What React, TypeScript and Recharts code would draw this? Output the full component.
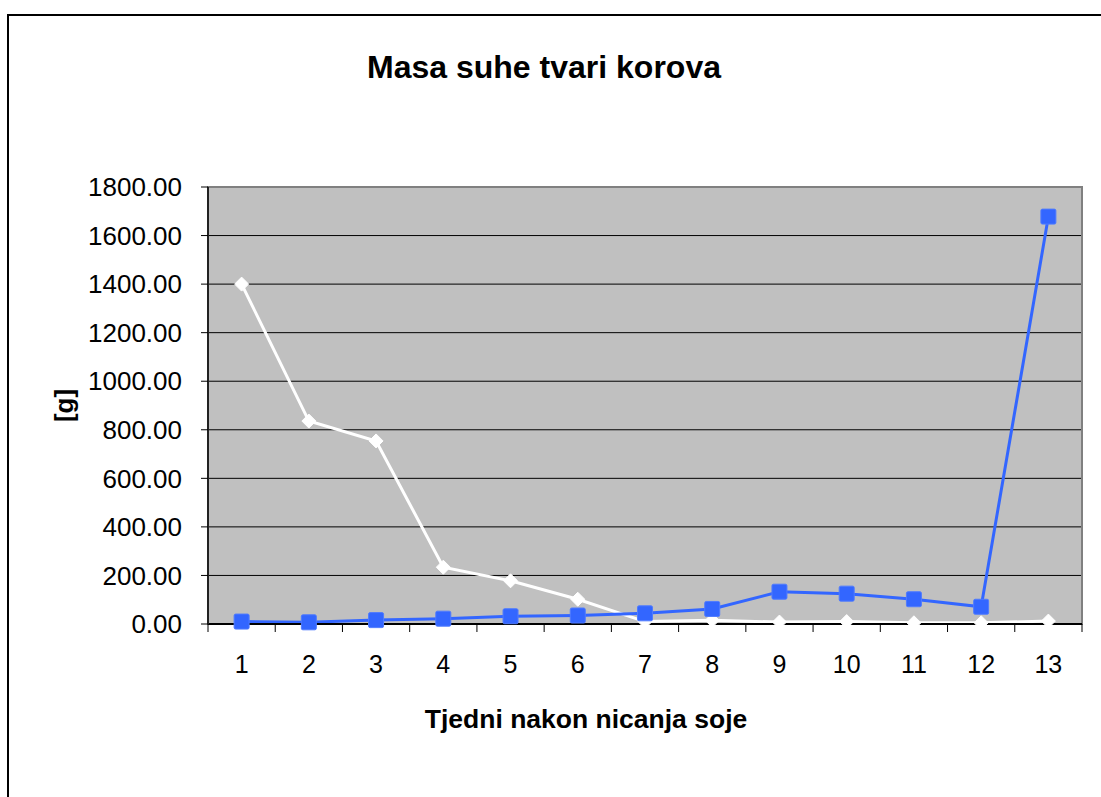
import { CartesianGrid, Line, LineChart, ReferenceArea, XAxis, YAxis } from "recharts";

const weeks = [1, 2, 3, 4, 5, 6, 7, 8, 9, 10, 11, 12, 13];
const whiteValues = [1400, 836, 754, 234, 178, 102, 10, 15, 8, 10, 5, 5, 12];
const blueValues = [10, 7, 16, 22, 32, 35, 44, 62, 133, 125, 102, 71, 1678];
const yTicks = [0, 200, 400, 600, 800, 1000, 1200, 1400, 1600, 1800];
const title = "Masa suhe tvari korova";
const xTitle = "Tjedni nakon nicanja soje";
const yTitle = "[g]";

const data = weeks.map((w, i) => ({ week: w, white: whiteValues[i], blue: blueValues[i] }));
// tick marks sit on the borders between categories
const boundaryTicks = [...weeks.map((w) => w - 0.5), weeks[weeks.length - 1] + 0.5];

const FONT = '"Liberation Sans", Arial, sans-serif';

const Diamond = (props: any) => {
  const { cx, cy } = props;
  if (cx == null || cy == null) return null;
  const r = 7;
  return (
    <polygon
      key={props.key}
      points={`${cx},${cy - r} ${cx + r},${cy} ${cx},${cy + r} ${cx - r},${cy}`}
      fill="#ffffff"
      stroke="#ffffff"
      strokeWidth={1}
    />
  );
};

const Square = (props: any) => {
  const { cx, cy } = props;
  if (cx == null || cy == null) return null;
  const s = 15;
  return (
    <rect
      key={props.key}
      x={cx - s / 2}
      y={cy - s / 2}
      width={s}
      height={s}
      rx={1.5}
      fill="#3366ff"
      stroke="#4f7bff"
      strokeWidth={1}
    />
  );
};

const YTitle = (props: any) => {
  const vb = props.viewBox || {};
  const x = vb.x + 56;
  const y = vb.y + vb.height / 2;
  return (
    <text
      x={x}
      y={y}
      transform={`rotate(-90, ${x}, ${y})`}
      textAnchor="middle"
      dominantBaseline="central"
      fontFamily={FONT}
      fontWeight="bold"
      fontSize={26}
      fill="#000"
    >
      {yTitle}
    </text>
  );
};

export default function App() {
  return (
    <div
      style={{
        position: "fixed",
        left: 0,
        top: 0,
        width: 1101,
        height: 797,
        overflow: "hidden",
        background: "#fff",
        fontFamily: FONT,
      }}
    >
      <div
        style={{
          position: "absolute",
          left: 7,
          top: 14,
          width: 1200,
          height: 900,
          border: "2px solid #000",
        }}
      />
      <div
        style={{
          position: "absolute",
          left: 544,
          top: 51,
          transform: "translateX(-50%)",
          whiteSpace: "nowrap",
          fontSize: 32,
          lineHeight: 1,
          fontWeight: "bold",
        }}
      >
        {title}
      </div>
      <div
        style={{
          position: "absolute",
          left: 586,
          top: 706,
          transform: "translateX(-50%)",
          whiteSpace: "nowrap",
          fontSize: 26.5,
          lineHeight: 1,
          fontWeight: "bold",
        }}
      >
        {xTitle}
      </div>
      <div style={{ position: "absolute", left: 0, top: 0 }}>
        <LineChart
          width={1101}
          height={797}
          data={data}
          margin={{ top: 187, right: 19, left: 8, bottom: 105 }}
        >
          <CartesianGrid
            xAxisId="b"
            vertical={false}
            stroke="#000"
            strokeWidth={1}
            fill="#c0c0c0"
            fillOpacity={1}
          />
          <ReferenceArea
            xAxisId="b"
            x1={0.5}
            x2={13.5}
            y1={0}
            y2={1800}
            fill="none"
            stroke="#808080"
            strokeWidth={2}
          />
          <XAxis
            xAxisId="b"
            dataKey="week"
            type="number"
            domain={[0.5, 13.5]}
            ticks={weeks}
            interval={0}
            height={60}
            tickSize={0}
            tickMargin={23}
            axisLine={false}
            tickLine={false}
            tick={{ fill: "#000", fontSize: 25, fontFamily: FONT }}
          />
          <XAxis
            xAxisId="a"
            dataKey="week"
            type="number"
            domain={[0.5, 13.5]}
            ticks={boundaryTicks}
            interval={0}
            height={8}
            tickSize={8}
            tickFormatter={() => ""}
            axisLine={{ stroke: "#000", strokeWidth: 2 }}
            tickLine={{ stroke: "#000" }}
          />
          <YAxis
            domain={[0, 1800]}
            ticks={yTicks}
            interval={0}
            width={200}
            tickSize={7}
            tickMargin={19}
            tickFormatter={(v: number) => v.toFixed(2)}
            axisLine={{ stroke: "#222", strokeWidth: 2 }}
            tickLine={{ stroke: "#000" }}
            tick={{ fill: "#000", fontSize: 26, fontFamily: FONT }}
            label={{ content: <YTitle /> }}
          />
          <Line
            xAxisId="b"
            type="linear"
            dataKey="white"
            name="Serija 1"
            stroke="#ffffff"
            strokeWidth={3}
            dot={Diamond}
            activeDot={false}
            isAnimationActive={false}
          />
          <Line
            xAxisId="b"
            type="linear"
            dataKey="blue"
            name="Serija 2"
            stroke="#3366ff"
            strokeWidth={3}
            dot={Square}
            activeDot={false}
            isAnimationActive={false}
          />
        </LineChart>
      </div>
    </div>
  );
}
